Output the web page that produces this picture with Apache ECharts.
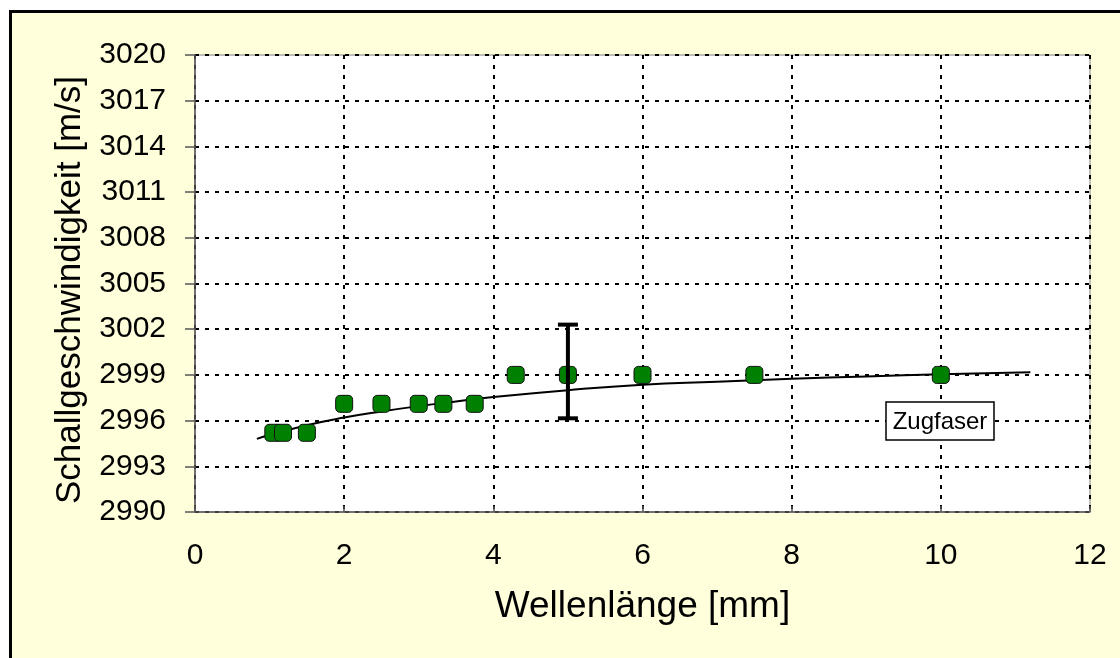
<!DOCTYPE html>
<html>
<head>
<meta charset="utf-8">
<script src="https://cdn.jsdelivr.net/npm/echarts@6/dist/echarts.min.js"></script>
<style>
  html, body { margin: 0; padding: 0; background: #ffffff; width: 1120px; height: 658px; overflow: hidden; }
  #frame { position: absolute; left: 9px; top: 10px; width: 1200px; height: 800px; border: 3px solid #000; background: #FFFFDC; }
  #chart { position: absolute; left: 0; top: 0; width: 1120px; height: 658px; }
</style>
</head>
<body>
<div id="frame"></div>
<div id="chart"></div>
<script>
// Measured points (Wellenlänge [mm], Schallgeschwindigkeit [m/s])
const waveLength = [1.05, 1.18, 1.5, 2.0, 2.5, 3.0, 3.33, 3.75, 4.3, 5.0, 6.0, 7.5, 10.0];
const soundSpeed = [2995.2, 2995.2, 2995.2, 2997.1, 2997.1, 2997.1, 2997.1, 2997.1, 2999.0, 2999.0, 2999.0, 2999.0, 2999.0];

// Trend line
const trendX = [0.83, 1.0, 1.5, 2.0, 2.5, 3.0, 3.5, 4.0, 5.0, 6.0, 7.0, 8.0, 9.0, 10.0, 11.2];
const trendY = [2994.8, 2995.05, 2995.7, 2996.2, 2996.6, 2996.95, 2997.25, 2997.55, 2998.0, 2998.35, 2998.55, 2998.75, 2998.9, 2999.04, 2999.17];

// Error bar at x = 5
const errX = [5.0];
const errLow = [2996.15];
const errHigh = [3002.3];

const yTicks = [2990, 2993, 2996, 2999, 3002, 3005, 3008, 3011, 3014, 3017, 3020];
const xTicks = [0, 2, 4, 6, 8, 10, 12];

const labelText = 'Zugfaser';
const xTitle = 'Wellenlänge [mm]';
const yTitle = 'Schallgeschwindigkeit [m/s]';

const FONT = '"Liberation Sans", Arial, sans-serif';

const chart = echarts.init(document.getElementById('chart'), null, { renderer: 'canvas' });

const option = {
  backgroundColor: 'transparent',
  animation: false,
  grid: {
    left: 195, right: 30, top: 55, bottom: 146,
    show: true, backgroundColor: '#ffffff', borderColor: '#808080', borderWidth: 1
  },
  xAxis: {
    type: 'value',
    min: xTicks[0], max: xTicks[xTicks.length - 1], interval: 2,
    name: xTitle, nameLocation: 'middle', nameGap: 76,
    nameTextStyle: { fontFamily: FONT, fontSize: 37, color: '#000' },
    axisLine: { show: true, onZero: false, lineStyle: { color: '#555', width: 1.5 } },
    axisTick: { show: true, inside: true, length: 6, lineStyle: { color: '#555', width: 1.5 } },
    axisLabel: { fontFamily: FONT, fontSize: 30, color: '#000', margin: 29,
      formatter: v => String(v) },
    splitLine: { show: true, lineStyle: { color: '#000', type: [4, 6], width: 2 } }
  },
  yAxis: {
    type: 'value',
    min: yTicks[0], max: yTicks[yTicks.length - 1], interval: 3,
    axisLine: { show: true, lineStyle: { color: '#555', width: 1.5 } },
    axisTick: { show: true, inside: false, length: 10, lineStyle: { color: '#555', width: 1.5 } },
    axisLabel: { fontFamily: FONT, fontSize: 30, color: '#000', margin: 29,
      formatter: v => String(v) },
    splitLine: { show: true, lineStyle: { color: '#000', type: [4, 6], width: 2 } }
  },
  series: [
    {
      name: 'trend', type: 'line', smooth: true, showSymbol: false, silent: true,
      data: trendX.map((x, i) => [x, trendY[i]]),
      lineStyle: { color: '#000', width: 2 },
      z: 3
    },
    {
      name: 'Zugfaser', type: 'scatter',
      data: waveLength.map((x, i) => [x, soundSpeed[i]]),
      symbol: 'roundRect', symbolSize: 17,
      itemStyle: { color: '#008000', borderColor: '#111', borderWidth: 1, opacity: 1 },
      z: 4
    },
    {
      name: 'error', type: 'custom',
      data: errX.map((x, i) => [x, errLow[i], errHigh[i]]),
      renderItem: function (params, api) {
        const lo = api.coord([api.value(0), api.value(1)]);
        const hi = api.coord([api.value(0), api.value(2)]);
        const half = 10;
        const st = { stroke: '#000', lineWidth: 4 };
        return {
          type: 'group',
          children: [
            { type: 'line', shape: { x1: lo[0], y1: lo[1], x2: hi[0], y2: hi[1] }, style: st },
            { type: 'line', shape: { x1: lo[0] - half, y1: lo[1], x2: lo[0] + half, y2: lo[1] }, style: st },
            { type: 'line', shape: { x1: hi[0] - half, y1: hi[1], x2: hi[0] + half, y2: hi[1] }, style: st }
          ]
        };
      },
      z: 5
    }
  ],
  graphic: [
    { type: 'text', z: 100, x: 70, y: 290, rotation: Math.PI / 2,
      style: { text: yTitle, fontFamily: FONT, fontSize: 35, fill: '#000', align: 'center', verticalAlign: 'middle' } },
    { type: 'rect', z: 100, shape: { x: 886, y: 402, width: 108, height: 38 },
      style: { fill: '#ffffff', stroke: '#000', lineWidth: 1.5 } },
    { type: 'text', z: 101, x: 940, y: 422,
      style: { text: labelText, fontFamily: FONT, fontSize: 24, fill: '#000', align: 'center', verticalAlign: 'middle' } }
  ]
};

chart.setOption(option);
</script>
</body>
</html>
